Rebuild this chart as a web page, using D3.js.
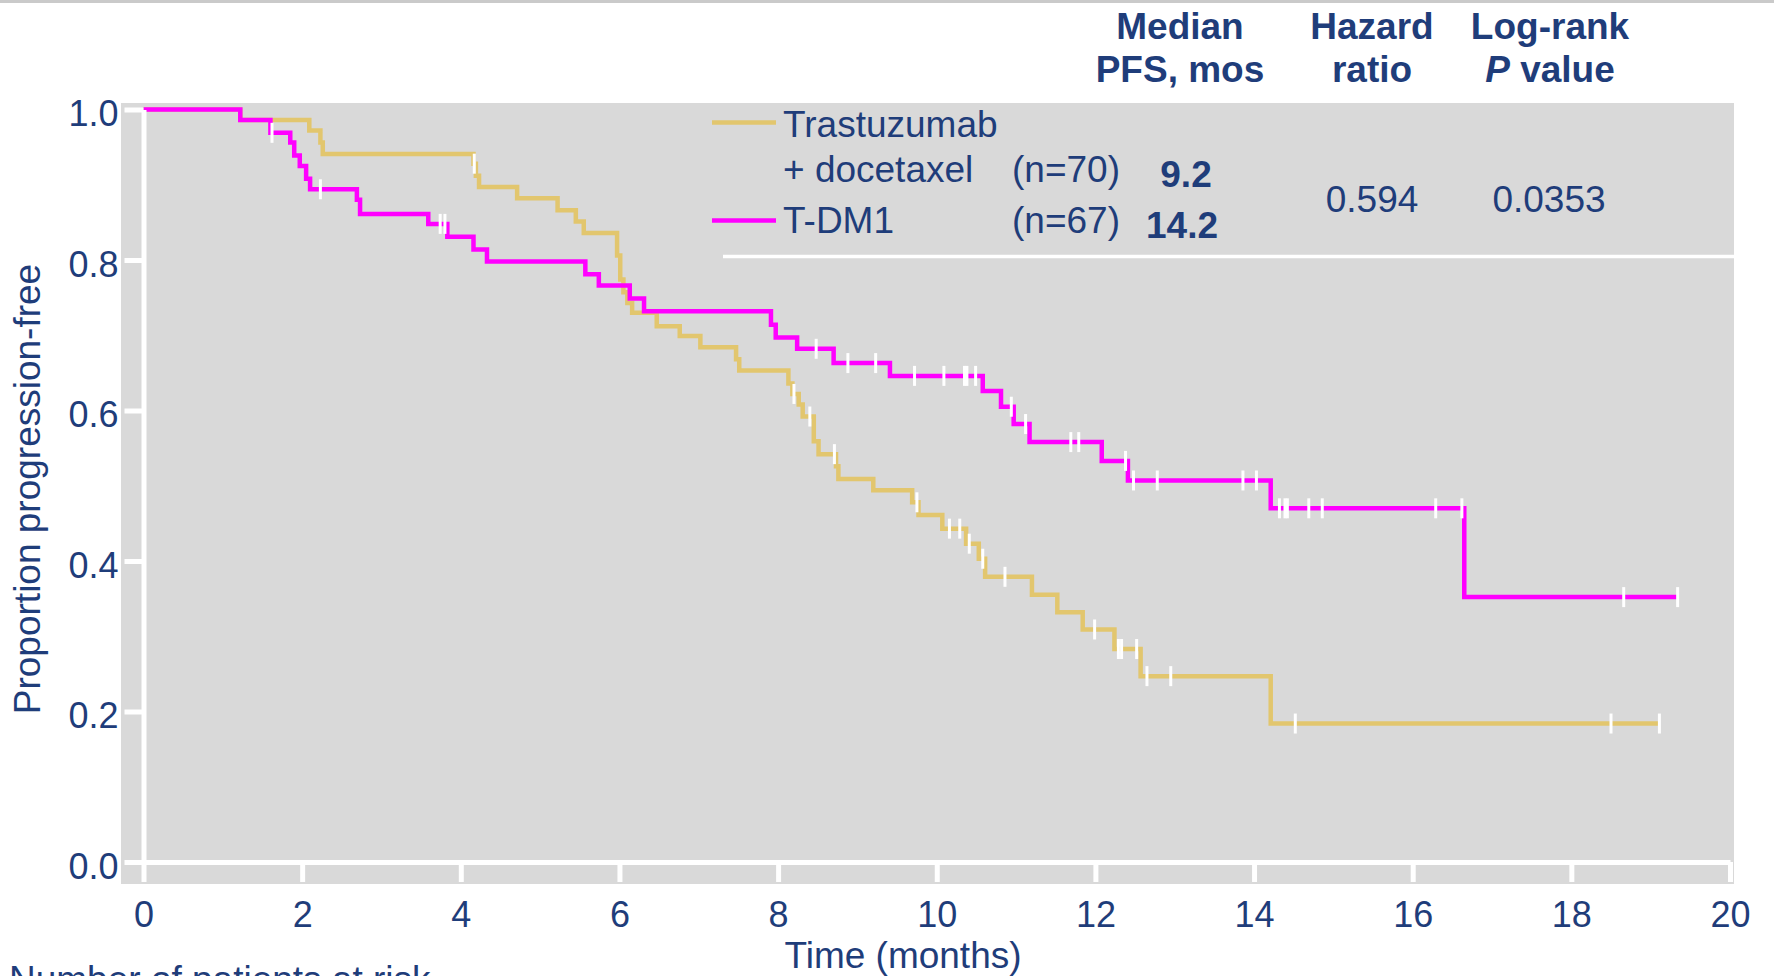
<!DOCTYPE html>
<html lang="en">
<head>
<meta charset="UTF-8">
<title>Progression-free survival</title>
<script src="https://d3js.org/d3.v7.min.js"></script>
<style>
  body { margin: 0; background: #fff; }
  svg { display: block; font-family: "Liberation Sans", Arial, sans-serif; }
</style>
</head>
<body>
<div id="chart"></div>
<script>
// Trastuzumab + docetaxel (n=70): event times (months) and proportion progression-free
const hdTimes = [0, 1.22, 2.09, 2.23, 2.26, 4.16, 4.19, 4.23, 4.71, 5.22, 5.45, 5.55, 5.97, 6.01, 6.05, 6.10, 6.16,
                 6.47, 6.76, 7.02, 7.47, 7.51, 8.13, 8.18, 8.26, 8.31, 8.45, 8.51, 8.73, 8.76, 9.20, 9.69, 9.77,
                 10.07, 10.37, 10.53, 10.61, 11.20, 11.52, 11.84, 12.24, 12.57, 14.21];
const hdSurv  = [1.0, 0.986, 0.972, 0.956, 0.941, 0.928, 0.912, 0.897, 0.882, 0.866, 0.851, 0.836, 0.806, 0.774, 0.757, 0.743, 0.730,
                 0.712, 0.699, 0.684, 0.668, 0.653, 0.636, 0.622, 0.608, 0.592, 0.559, 0.542, 0.526, 0.509, 0.494, 0.478, 0.461,
                 0.443, 0.423, 0.403, 0.379, 0.355, 0.332, 0.309, 0.283, 0.247, 0.184];
const hdCensor = [4.17, 8.20, 8.40, 8.71, 9.75, 10.16, 10.29, 10.41, 10.58, 10.86, 11.99, 12.29, 12.33, 12.52, 12.65, 12.95,
                  14.52, 18.50, 19.11];
const hdEnd = 19.11;

// T-DM1 (n=67)
const tdmTimes = [0, 1.22, 1.60, 1.85, 1.90, 1.97, 2.05, 2.10, 2.69, 2.73, 3.59, 3.83, 4.16, 4.33, 5.57, 5.74, 6.13, 6.31,
                  7.91, 7.97, 8.24, 8.70, 9.41, 10.58, 10.81, 10.97, 11.17, 12.08, 12.41, 14.21, 16.65];
const tdmSurv  = [1.0, 0.986, 0.969, 0.956, 0.939, 0.925, 0.908, 0.894, 0.880, 0.861, 0.848, 0.831, 0.814, 0.798, 0.781, 0.766, 0.749, 0.732,
                  0.714, 0.697, 0.682, 0.663, 0.646, 0.626, 0.605, 0.582, 0.558, 0.533, 0.507, 0.470, 0.352];
const tdmCensor = [1.62, 2.23, 3.74, 3.80, 8.48, 8.88, 9.23, 9.72, 10.09, 10.35, 10.38, 10.49, 10.94, 11.12, 11.69, 11.79,
                   12.38, 12.48, 12.78, 13.86, 14.03, 14.32, 14.39, 14.42, 14.69, 14.86, 16.29, 16.62, 18.66, 19.34];
const tdmEnd = 19.35;

const xTicks = [0, 2, 4, 6, 8, 10, 12, 14, 16, 18, 20];
const yTicks = [0, 0.2, 0.4, 0.6, 0.8, 1.0];

const navy = "#1f3d7a";
const gold = "#e2c66e";
const magenta = "#ff00ff";

const W = 1774, H = 976;
const svg = d3.select("#chart").append("svg").attr("width", W).attr("height", H);

const x = d3.scaleLinear().domain([0, 20]).range([143.5, 1730]);
const y = d3.scaleLinear().domain([0, 1]).range([862, 109.5]);

// top rule and grey plot panel
svg.append("rect").attr("x", 0).attr("y", 0).attr("width", W).attr("height", 3).attr("fill", "#cacaca");
svg.append("rect").attr("x", 121).attr("y", 103).attr("width", 1613).attr("height", 781).attr("fill", "#d9d9d9");

// white line under the legend table
svg.append("line").attr("x1", 723).attr("x2", 1734).attr("y1", 256.5).attr("y2", 256.5)
    .attr("stroke", "#fff").attr("stroke-width", 3.5);

// curves
function stepAt(times, surv, t) {
    return surv[d3.bisectRight(times, t) - 1];
}
const line = d3.line().x(d => x(d[0])).y(d => y(d[1])).curve(d3.curveStepAfter);

function drawCurve(times, surv, end, censor, color) {
    const pts = times.map((t, i) => [t, surv[i]]);
    pts.push([end, surv[surv.length - 1]]);
    svg.append("path").datum(pts).attr("d", line)
        .attr("fill", "none").attr("stroke", color).attr("stroke-width", 4.5);
    svg.append("g").selectAll("line").data(censor).join("line")
        .attr("x1", d => x(d)).attr("x2", d => x(d))
        .attr("y1", d => y(stepAt(times, surv, d)) - 10)
        .attr("y2", d => y(stepAt(times, surv, d)) + 10)
        .attr("stroke", "#fff").attr("stroke-width", 3);
}
drawCurve(hdTimes, hdSurv, hdEnd, hdCensor, gold);
drawCurve(tdmTimes, tdmSurv, tdmEnd, tdmCensor, magenta);

// axes
const yAxis = svg.append("g").attr("transform", `translate(${x(0)},0)`)
    .call(d3.axisLeft(y).tickValues(yTicks).tickFormat(d3.format(".1f")).tickSize(19).tickSizeOuter(0).tickPadding(6));
const xAxis = svg.append("g").attr("transform", `translate(0,${y(0)})`)
    .call(d3.axisBottom(x).tickValues(xTicks).tickSize(20).tickSizeOuter(0).tickPadding(19.5));
[yAxis, xAxis].forEach(a => {
    a.select(".domain").attr("stroke", "#fff").attr("stroke-width", 5);
    a.selectAll(".tick line").attr("stroke", "#fff").attr("stroke-width", 5);
    a.selectAll(".tick text").attr("fill", navy).attr("font-size", 36)
        .attr("font-family", "Liberation Sans, Arial, sans-serif");
});
yAxis.selectAll(".tick text").attr("dy", "0.45em");

// axis titles
svg.append("text").attr("transform", "translate(40,489) rotate(-90)")
    .attr("text-anchor", "middle").attr("fill", navy).attr("font-size", 37)
    .text("Proportion progression-free");
svg.append("text").attr("x", 903).attr("y", 968).attr("text-anchor", "middle")
    .attr("fill", navy).attr("font-size", 37).text("Time (months)");
svg.append("text").attr("x", 9).attr("y", 992).attr("fill", navy).attr("font-size", 37)
    .text("Number of patients at risk");

// legend + table
const hdr = svg.append("g").attr("fill", navy).attr("font-size", 37).attr("font-weight", "bold")
    .attr("text-anchor", "middle");
hdr.append("text").attr("x", 1180).attr("y", 39).text("Median");
hdr.append("text").attr("x", 1180).attr("y", 82).text("PFS, mos");
hdr.append("text").attr("x", 1372).attr("y", 39).text("Hazard");
hdr.append("text").attr("x", 1372).attr("y", 82).text("ratio");
hdr.append("text").attr("x", 1550).attr("y", 39).text("Log-rank");
const pv = hdr.append("text").attr("x", 1550).attr("y", 82);
pv.append("tspan").attr("font-style", "italic").text("P");
pv.append("tspan").text(" value");

svg.append("line").attr("x1", 712).attr("x2", 776).attr("y1", 122.5).attr("y2", 122.5)
    .attr("stroke", gold).attr("stroke-width", 4.5);
svg.append("line").attr("x1", 712).attr("x2", 776).attr("y1", 220.5).attr("y2", 220.5)
    .attr("stroke", magenta).attr("stroke-width", 4.5);

const leg = svg.append("g").attr("fill", navy).attr("font-size", 37);
leg.append("text").attr("x", 783).attr("y", 137).text("Trastuzumab");
leg.append("text").attr("x", 783).attr("y", 182).text("+ docetaxel");
leg.append("text").attr("x", 783).attr("y", 233).text("T-DM1");
leg.append("text").attr("x", 1012).attr("y", 182).text("(n=70)");
leg.append("text").attr("x", 1012).attr("y", 233).text("(n=67)");
leg.append("text").attr("x", 1186).attr("y", 187).attr("text-anchor", "middle").attr("font-weight", "bold").text("9.2");
leg.append("text").attr("x", 1182).attr("y", 238).attr("text-anchor", "middle").attr("font-weight", "bold").text("14.2");
leg.append("text").attr("x", 1372).attr("y", 212).attr("text-anchor", "middle").text("0.594");
leg.append("text").attr("x", 1549).attr("y", 212).attr("text-anchor", "middle").text("0.0353");
</script>
</body>
</html>
